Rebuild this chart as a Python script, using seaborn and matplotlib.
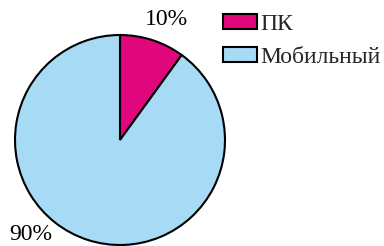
import numpy as np
import matplotlib
matplotlib.use('Agg')
import matplotlib.pyplot as plt
import seaborn as sns

labels = ['ПК', 'Мобильный']
shares = [10, 90]
colors = ['#E0077D', '#A6DAF5']

sns.set_theme(style='white')
plt.rcParams['font.family'] = ['Liberation Serif', 'DejaVu Serif']

fig = plt.figure(figsize=(3.84, 2.46), dpi=100)
ax = fig.add_axes([15/384, 1/246, 210/384, 210/246])

wedges, texts = ax.pie(shares, colors=colors, startangle=90, counterclock=False,
                       labels=['%d%%' % s for s in shares], labeldistance=1.2,
                       wedgeprops={'edgecolor': 'black', 'linewidth': 1.5},
                       textprops={'fontsize': 17, 'color': 'black'})
ax.set_xlim(-1, 1)
ax.set_ylim(-1, 1)
# label placement (angle in degrees, radius in pie radii)
for t, (a, r) in zip(texts, [(69, 1.23), (226.5, 1.24)]):
    ang = np.deg2rad(a)
    t.set_position((r*np.cos(ang), r*np.sin(ang)))
    t.set_ha('center')
    t.set_va('center')
    t.set_clip_on(False)

leg = fig.legend(wedges, labels, loc='upper left', bbox_to_anchor=(223/384, 1 - 14/246),
                 frameon=False, fontsize=17, handlelength=1.45, handleheight=0.6,
                 handletextpad=0.15, labelspacing=0.5, borderaxespad=0, borderpad=0)

fig.savefig('out.png', dpi=100)
